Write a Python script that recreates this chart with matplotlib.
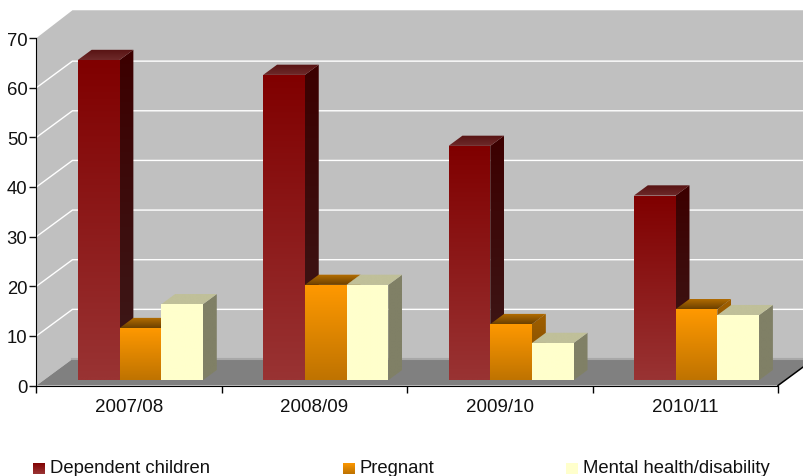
import numpy as np
import matplotlib
matplotlib.use('Agg')
import matplotlib.pyplot as plt
from matplotlib.patches import Polygon

plt.rcParams['font.family'] = ['Liberation Sans', 'DejaVu Sans']

years = ['2007/08', '2008/09', '2009/10', '2010/11']
dependent = [64.5, 61.5, 47.2, 37.2]
pregnant = [10.5, 19.2, 11.3, 14.3]
mental = [15.3, 19.2, 7.5, 13.1]
series_names = ['Dependent children', 'Pregnant', 'Mental health/disability']
yticks = [0, 10, 20, 30, 40, 50, 60, 70]

# colours as (top, bottom) of each face
dep_cols = {'front': ('#800000', '#993333'), 'side': ('#3c0000', '#3d1a1a'), 'top': ('#571212', '#6e2a2a')}
preg_cols = {'front': ('#ff9900', '#bf7300'), 'side': ('#a05f00', '#7a4900'), 'top': ('#b87000', '#6b4000')}
ment_cols = {'front': ('#ffffcc', '#ffffcc'), 'side': ('#808066', '#808066'), 'top': ('#c0c099', '#c0c099')}

# oblique projection, depth 1 = back wall
DX = 36 / 185.5
DY = 26.5 / 4.964


def proj(x, v, d):
    return (x + d * DX, v + d * DY)


def grad_poly(ax, pts, top, bottom, z):
    c1 = np.array(matplotlib.colors.to_rgb(top))
    c2 = np.array(matplotlib.colors.to_rgb(bottom))
    arr = np.linspace(c1, c2, 64)[:, None, :]
    xs = [p[0] for p in pts]
    ys = [p[1] for p in pts]
    im = ax.imshow(arr, extent=[min(xs), max(xs), min(ys), max(ys)], aspect='auto',
                   origin='upper', interpolation='bilinear', zorder=z)
    poly = Polygon(pts, closed=True, transform=ax.transData, facecolor='none', edgecolor='none')
    ax.add_patch(poly)
    im.set_clip_path(poly)


def bar3d(ax, x, w, v, cols, z):
    d0, d1 = 0.2, 0.2 + 0.385
    # side
    grad_poly(ax, [proj(x + w, v, d0), proj(x + w, v, d1), proj(x + w, 0, d1), proj(x + w, 0, d0)],
              cols['side'][0], cols['side'][1], z)
    # top
    grad_poly(ax, [proj(x, v, d0), proj(x + w, v, d0), proj(x + w, v, d1), proj(x, v, d1)],
              cols['top'][0], cols['top'][1], z)
    # front
    grad_poly(ax, [proj(x, v, d0), proj(x + w, v, d0), proj(x + w, 0, d0), proj(x, 0, d0)],
              cols['front'][0], cols['front'][1], z)


fig = plt.figure(figsize=(8.04, 4.77), dpi=100)
ax = fig.add_axes([36.5 / 804, (477 - 386.5) / 477, (778 - 36.5) / 804, (386.5 - 39) / 477])
ax.patch.set_alpha(0)

# walls and floor
ax.add_patch(Polygon([proj(0, 0, 0), proj(0, 70, 0), proj(0, 70.25, 1), proj(4.2, 70.25, 1), proj(4.2, 0, 1), proj(0, 0, 1)],
                     facecolor='#c0c0c0', edgecolor='none', clip_on=False, zorder=1))
ax.add_patch(Polygon([proj(0, 0, 0), proj(4, 0, 0), proj(4, 0, 1), proj(0, 0, 1)],
                     facecolor='#808080', edgecolor='none', clip_on=False, zorder=1.5))
ax.plot(*zip(proj(0, 0, 1), proj(4.2, 0, 1)), color='#a8a8a8', lw=1.5, clip_on=False, zorder=1.6)

for v in yticks[1:-1]:
    ax.plot(*zip(proj(0, v, 0), proj(0, v, 1), proj(4.2, v, 1)), color='white', lw=1, clip_on=False, zorder=2)

ax.plot(*zip(proj(4, 0, 0), proj(4, 0, 1)), color='black', lw=1.1, clip_on=False, zorder=2)

w = 0.225
for i in range(len(years)):
    x0 = i + 0.184
    bar3d(ax, x0, w, dependent[i], dep_cols, 3 + i)
    bar3d(ax, x0 + w, w, pregnant[i], preg_cols, 3 + i + 0.1)
    bar3d(ax, x0 + 2 * w, w, mental[i], ment_cols, 3 + i + 0.2)

ax.set_xlim(0, 4)
ax.set_ylim(0, 70)
ax.set_yticks(yticks)
ax.set_xticks([0, 1, 2, 3, 4])
ax.set_xticklabels([])
ax.set_xticks([0.5, 1.5, 2.5, 3.5], labels=years, minor=True)
ax.tick_params(axis='x', which='minor', length=0, labelsize=13.5, pad=9, colors='#111111')
ax.tick_params(axis='x', which='major', length=5, width=1)
ax.tick_params(axis='y', length=5, width=1, labelsize=13.3, pad=1.5, colors='#111111')
for s in ['top', 'right']:
    ax.spines[s].set_visible(False)
for s in ['left', 'bottom']:
    ax.spines[s].set_zorder(20)

# legend
legend_x = [33, 343, 566]
text_x = [50, 360, 583]
legend_cols = [dep_cols, preg_cols, ment_cols]
for name, lx, tx, cols in zip(series_names, legend_x, text_x, legend_cols):
    lax = fig.add_axes([lx / 804, (477 - 475) / 477, 11.5 / 804, 11.5 / 477])
    c1 = np.array(matplotlib.colors.to_rgb(cols['front'][0]))
    c2 = np.array(matplotlib.colors.to_rgb(cols['front'][1]))
    lax.imshow(np.linspace(c1, c2, 16)[:, None, :], aspect='auto')
    lax.axis('off')
    fig.text(tx / 804, (477 - 469) / 477, name, fontsize=13.3, va='center', ha='left', color='#111111')

fig.savefig('out.png', dpi=100)
